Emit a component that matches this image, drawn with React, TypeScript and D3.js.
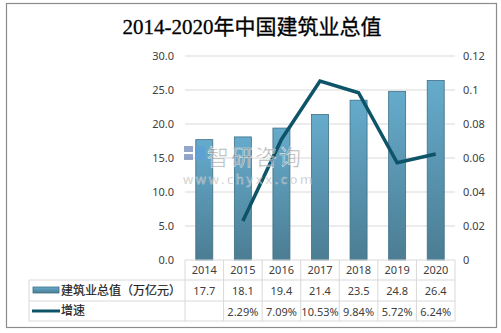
import React from "react";
import * as d3 from "d3";

const years = ["2014", "2015", "2016", "2017", "2018", "2019", "2020"];
const totals = [17.7, 18.1, 19.4, 21.4, 23.5, 24.8, 26.4];
const growth: (number | null)[] = [null, 0.0229, 0.0709, 0.1053, 0.0984, 0.0572, 0.0624];
const growthLabels = ["", "2.29%", "7.09%", "10.53%", "9.84%", "5.72%", "6.24%"];
const leftTicks = [0, 5, 10, 15, 20, 25, 30];
const rightTicks = [0, 0.02, 0.04, 0.06, 0.08, 0.1, 0.12];
const title = "2014-2020年中国建筑业总值";
const barName = "建筑业总值（万亿元）";
const lineName = "增速";

const W = 501, H = 333;
const plotL = 185, plotR = 455, plotT = 56, plotB = 260;
const tableL = 29;
const rowH = [260, 280, 301, 321];

export default function App() {
  const x = d3.scaleBand<string>().domain(years).range([plotL, plotR]).paddingInner(0).paddingOuter(0);
  const yL = d3.scaleLinear().domain([0, 30]).range([plotB, plotT]);
  const yR = d3.scaleLinear().domain([0, 0.12]).range([plotB, plotT]);
  const bw = 17;
  const line = d3
    .line<number | null>()
    .defined((d) => d != null)
    .x((_, i) => x(years[i])! + x.bandwidth() / 2)
    .y((d) => yR(d as number));
  const grid = "#D9D9D9";
  const txt = "#404040";
  const font = "'Noto Sans', 'Noto Sans CJK SC', sans-serif";
  return (
    <svg width={W} height={H} style={{ position: "absolute", left: 0, top: 0 }} fontFamily={font}>
      <defs>
        <linearGradient id="barg" x1="0" y1="0" x2="0" y2="1">
          <stop offset="0" stopColor="#66ABCC" />
          <stop offset="1" stopColor="#4B7D93" />
        </linearGradient>
      </defs>
      <rect x={0} y={0} width={W} height={H} fill="#fff" />
      <rect x={6.5} y={3.5} width={490} height={324} fill="#fff" stroke="#8C8C8C" strokeWidth={1.2} />
      <text x={252} y={34} textAnchor="middle" fontSize={21} fontWeight="normal" fill="#000" stroke="#000" strokeWidth={0.3}
        fontFamily="'Liberation Serif', 'DejaVu Serif', 'Noto Sans CJK SC', serif">{title}</text>
      {leftTicks.map((t) => (
        <g key={"l" + t}>
          {t > 0 && <line x1={plotL} x2={plotR} y1={yL(t)} y2={yL(t)} stroke={grid} strokeWidth={1} />}
          <text x={174} y={yL(t) + 4} textAnchor="end" fontSize={11} fill={txt}>{t.toFixed(1)}</text>
        </g>
      ))}
      {rightTicks.map((t) => (
        <text key={"r" + t} x={463} y={yR(t) + 4} textAnchor="start" fontSize={11} fill={txt}>{String(t)}</text>
      ))}
      {totals.map((v, i) => (
        <rect key={"b" + i} x={x(years[i])! + x.bandwidth() / 2 - bw / 2} y={yL(v)} width={bw} height={plotB - yL(v)}
          fill="url(#barg)" stroke="#3F6F86" strokeWidth={0.8} />
      ))}
      <path d={line(growth) || ""} fill="none" stroke="#0E5468" strokeWidth={3.5} strokeLinejoin="miter" />
      {/* watermark */}
      <g opacity={0.7}>
        <rect x={184} y={146} width={9} height={6} fill="#6A7FB5" />
        <rect x={184} y={154} width={9} height={6} fill="#6A7FB5" />
        <rect x={195} y={146} width={10} height={14} fill="#5BA0D8" />
        <text x={207} y={165} fontSize={22} fill="#8a8a8a" stroke="#fff" strokeWidth={0.6} fontFamily="'Noto Sans CJK SC', sans-serif" letterSpacing={2}>智研咨询</text>
        <text x={183} y={184} fontSize={13} fill="#8a8a8a" stroke="#fff" strokeWidth={0.4} letterSpacing={2.6}>www.chyxx.com</text>
      </g>
      {/* table */}
      <line x1={plotL} x2={plotR} y1={rowH[0]} y2={rowH[0]} stroke={grid} />
      {[1, 2, 3].map((r) => (
        <line key={"h" + r} x1={tableL} x2={plotR} y1={rowH[r]} y2={rowH[r]} stroke={grid} />
      ))}
      <line x1={tableL} x2={tableL} y1={rowH[1]} y2={rowH[3]} stroke={grid} />
      {years.map((y, i) => (
        <line key={"v" + i} x1={x(y)!} x2={x(y)!} y1={rowH[0]} y2={rowH[3]} stroke={grid} />
      ))}
      <line x1={plotR} x2={plotR} y1={rowH[0]} y2={rowH[3]} stroke={grid} />
      {years.map((y, i) => (
        <g key={"t" + i} fontSize={11} fill={txt} textAnchor="middle">
          <text x={x(y)! + x.bandwidth() / 2} y={rowH[0] + 14}>{y}</text>
          <text x={x(y)! + x.bandwidth() / 2} y={rowH[1] + 15}>{totals[i].toFixed(1)}</text>
          <text x={x(y)! + x.bandwidth() / 2} y={rowH[2] + 15}>{growthLabels[i]}</text>
        </g>
      ))}
      <rect x={33} y={287} width={26} height={6} fill="url(#barg)" stroke="#3F6F86" strokeWidth={0.8} />
      <text x={61} y={295} fontSize={12} fill="#222" stroke="#222" strokeWidth={0.2}>{barName}</text>
      <line x1={32} x2={60} y1={311} y2={311} stroke="#0E5468" strokeWidth={3} />
      <text x={61} y={315} fontSize={12} fill="#222" stroke="#222" strokeWidth={0.2}>{lineName}</text>
    </svg>
  );
}
